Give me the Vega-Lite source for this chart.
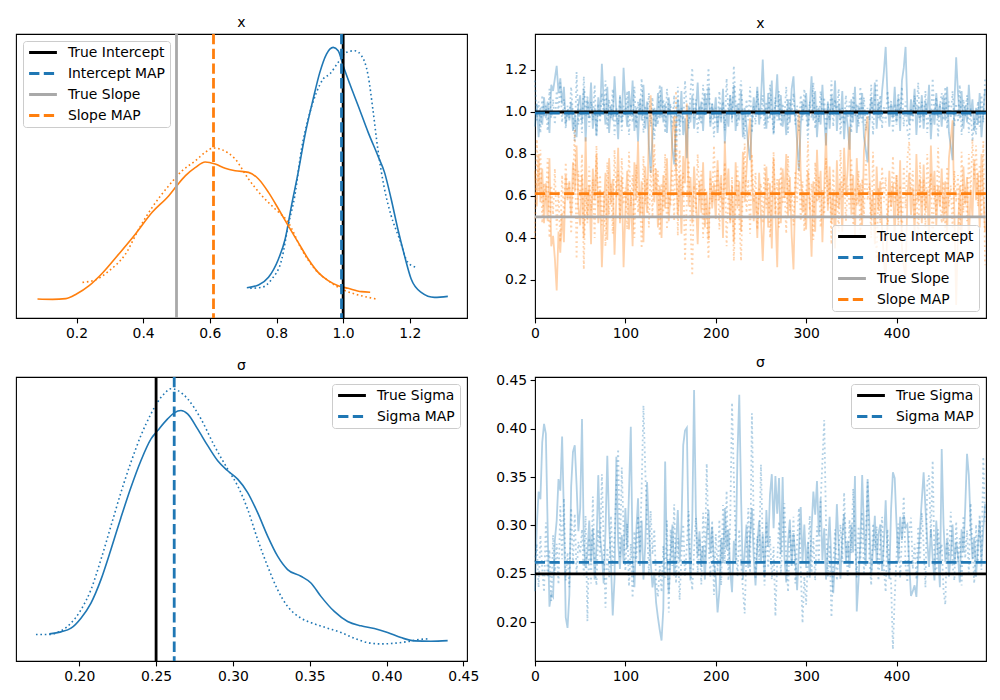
{
  "$schema": "https://vega.github.io/schema/vega-lite/v6.json",
  "background": "white",
  "padding": {"left": 15, "top": 15, "right": 5, "bottom": 5},
  "bounds": "flush",
  "columns": 2,
  "spacing": {"row": 59, "column": 68},
  "datasets": {
    "kdeX": [
      {"p": "Intercept", "c": 0, "x": 0.711, "d": 0.245}, {"p": "Intercept", "c": 0, "x": 0.746, "d": 0.282}, {"p": "Intercept", "c": 0, "x": 0.776, "d": 0.389}, {"p": "Intercept", "c": 0, "x": 0.806, "d": 0.644}, {"p": "Intercept", "c": 0, "x": 0.826, "d": 0.921}, {"p": "Intercept", "c": 0, "x": 0.845, "d": 1.384}, {"p": "Intercept", "c": 0, "x": 0.865, "d": 1.847}, {"p": "Intercept", "c": 0, "x": 0.885, "d": 2.356}, {"p": "Intercept", "c": 0, "x": 0.91, "d": 2.866}, {"p": "Intercept", "c": 0, "x": 0.93, "d": 3.236}, {"p": "Intercept", "c": 0, "x": 0.95, "d": 3.491}, {"p": "Intercept", "c": 0, "x": 0.97, "d": 3.583}, {"p": "Intercept", "c": 0, "x": 0.985, "d": 3.537}, {"p": "Intercept", "c": 0, "x": 1.0, "d": 3.329}, {"p": "Intercept", "c": 0, "x": 1.02, "d": 3.074}, {"p": "Intercept", "c": 0, "x": 1.045, "d": 2.773}, {"p": "Intercept", "c": 0, "x": 1.075, "d": 2.403}, {"p": "Intercept", "c": 0, "x": 1.104, "d": 2.079}, {"p": "Intercept", "c": 0, "x": 1.124, "d": 1.847}, {"p": "Intercept", "c": 0, "x": 1.144, "d": 1.477}, {"p": "Intercept", "c": 0, "x": 1.164, "d": 1.06}, {"p": "Intercept", "c": 0, "x": 1.184, "d": 0.69}, {"p": "Intercept", "c": 0, "x": 1.204, "d": 0.366}, {"p": "Intercept", "c": 0, "x": 1.234, "d": 0.181}, {"p": "Intercept", "c": 0, "x": 1.274, "d": 0.111}, {"p": "Intercept", "c": 0, "x": 1.314, "d": 0.125},
      {"p": "Intercept", "c": 1, "x": 0.721, "d": 0.236}, {"p": "Intercept", "c": 1, "x": 0.756, "d": 0.25}, {"p": "Intercept", "c": 1, "x": 0.786, "d": 0.366}, {"p": "Intercept", "c": 1, "x": 0.816, "d": 0.644}, {"p": "Intercept", "c": 1, "x": 0.835, "d": 1.106}, {"p": "Intercept", "c": 1, "x": 0.855, "d": 1.523}, {"p": "Intercept", "c": 1, "x": 0.875, "d": 2.171}, {"p": "Intercept", "c": 1, "x": 0.895, "d": 2.588}, {"p": "Intercept", "c": 1, "x": 0.92, "d": 2.958}, {"p": "Intercept", "c": 1, "x": 0.94, "d": 3.144}, {"p": "Intercept", "c": 1, "x": 0.96, "d": 3.213}, {"p": "Intercept", "c": 1, "x": 0.985, "d": 3.375}, {"p": "Intercept", "c": 1, "x": 1.01, "d": 3.514}, {"p": "Intercept", "c": 1, "x": 1.035, "d": 3.537}, {"p": "Intercept", "c": 1, "x": 1.055, "d": 3.468}, {"p": "Intercept", "c": 1, "x": 1.075, "d": 3.19}, {"p": "Intercept", "c": 1, "x": 1.089, "d": 2.727}, {"p": "Intercept", "c": 1, "x": 1.104, "d": 2.171}, {"p": "Intercept", "c": 1, "x": 1.124, "d": 1.616}, {"p": "Intercept", "c": 1, "x": 1.144, "d": 1.245}, {"p": "Intercept", "c": 1, "x": 1.169, "d": 0.921}, {"p": "Intercept", "c": 1, "x": 1.194, "d": 0.597}, {"p": "Intercept", "c": 1, "x": 1.219, "d": 0.528},
      {"p": "Slope", "c": 0, "x": 0.083, "d": 0.088}, {"p": "Slope", "c": 0, "x": 0.128, "d": 0.083}, {"p": "Slope", "c": 0, "x": 0.168, "d": 0.093}, {"p": "Slope", "c": 0, "x": 0.2, "d": 0.157}, {"p": "Slope", "c": 0, "x": 0.238, "d": 0.273}, {"p": "Slope", "c": 0, "x": 0.278, "d": 0.449}, {"p": "Slope", "c": 0, "x": 0.327, "d": 0.713}, {"p": "Slope", "c": 0, "x": 0.377, "d": 0.991}, {"p": "Slope", "c": 0, "x": 0.427, "d": 1.292}, {"p": "Slope", "c": 0, "x": 0.477, "d": 1.523}, {"p": "Slope", "c": 0, "x": 0.501, "d": 1.662}, {"p": "Slope", "c": 0, "x": 0.527, "d": 1.801}, {"p": "Slope", "c": 0, "x": 0.557, "d": 1.917}, {"p": "Slope", "c": 0, "x": 0.586, "d": 1.991}, {"p": "Slope", "c": 0, "x": 0.616, "d": 1.963}, {"p": "Slope", "c": 0, "x": 0.646, "d": 1.903}, {"p": "Slope", "c": 0, "x": 0.676, "d": 1.87}, {"p": "Slope", "c": 0, "x": 0.716, "d": 1.847}, {"p": "Slope", "c": 0, "x": 0.746, "d": 1.755}, {"p": "Slope", "c": 0, "x": 0.776, "d": 1.569}, {"p": "Slope", "c": 0, "x": 0.806, "d": 1.338}, {"p": "Slope", "c": 0, "x": 0.835, "d": 1.106}, {"p": "Slope", "c": 0, "x": 0.865, "d": 0.875}, {"p": "Slope", "c": 0, "x": 0.895, "d": 0.644}, {"p": "Slope", "c": 0, "x": 0.925, "d": 0.458}, {"p": "Slope", "c": 0, "x": 0.955, "d": 0.343}, {"p": "Slope", "c": 0, "x": 0.985, "d": 0.273}, {"p": "Slope", "c": 0, "x": 1.015, "d": 0.236}, {"p": "Slope", "c": 0, "x": 1.055, "d": 0.19}, {"p": "Slope", "c": 0, "x": 1.081, "d": 0.181},
      {"p": "Slope", "c": 1, "x": 0.218, "d": 0.319}, {"p": "Slope", "c": 1, "x": 0.258, "d": 0.356}, {"p": "Slope", "c": 1, "x": 0.298, "d": 0.481}, {"p": "Slope", "c": 1, "x": 0.347, "d": 0.713}, {"p": "Slope", "c": 1, "x": 0.387, "d": 1.06}, {"p": "Slope", "c": 1, "x": 0.427, "d": 1.361}, {"p": "Slope", "c": 1, "x": 0.477, "d": 1.662}, {"p": "Slope", "c": 1, "x": 0.517, "d": 1.87}, {"p": "Slope", "c": 1, "x": 0.557, "d": 2.009}, {"p": "Slope", "c": 1, "x": 0.586, "d": 2.125}, {"p": "Slope", "c": 1, "x": 0.611, "d": 2.185}, {"p": "Slope", "c": 1, "x": 0.636, "d": 2.162}, {"p": "Slope", "c": 1, "x": 0.676, "d": 2.032}, {"p": "Slope", "c": 1, "x": 0.716, "d": 1.755}, {"p": "Slope", "c": 1, "x": 0.756, "d": 1.523}, {"p": "Slope", "c": 1, "x": 0.796, "d": 1.338}, {"p": "Slope", "c": 1, "x": 0.835, "d": 1.153}, {"p": "Slope", "c": 1, "x": 0.875, "d": 0.782}, {"p": "Slope", "c": 1, "x": 0.915, "d": 0.505}, {"p": "Slope", "c": 1, "x": 0.955, "d": 0.343}, {"p": "Slope", "c": 1, "x": 0.995, "d": 0.227}, {"p": "Slope", "c": 1, "x": 1.035, "d": 0.157}, {"p": "Slope", "c": 1, "x": 1.075, "d": 0.111}, {"p": "Slope", "c": 1, "x": 1.099, "d": 0.088}
    ],
    "kdeS": [
      {"c": 0, "x": 0.1805, "d": 0.517}, {"c": 0, "x": 0.1881, "d": 0.617}, {"c": 0, "x": 0.1946, "d": 0.8}, {"c": 0, "x": 0.2011, "d": 1.3}, {"c": 0, "x": 0.2076, "d": 2.05}, {"c": 0, "x": 0.2141, "d": 3.217}, {"c": 0, "x": 0.2206, "d": 4.717}, {"c": 0, "x": 0.2271, "d": 6.3}, {"c": 0, "x": 0.2336, "d": 7.8}, {"c": 0, "x": 0.2401, "d": 9.133}, {"c": 0, "x": 0.2467, "d": 10.217}, {"c": 0, "x": 0.251, "d": 10.633}, {"c": 0, "x": 0.2575, "d": 11.217}, {"c": 0, "x": 0.2618, "d": 11.517}, {"c": 0, "x": 0.2662, "d": 11.633}, {"c": 0, "x": 0.2705, "d": 11.467}, {"c": 0, "x": 0.277, "d": 10.717}, {"c": 0, "x": 0.2836, "d": 9.883}, {"c": 0, "x": 0.2901, "d": 9.133}, {"c": 0, "x": 0.2966, "d": 8.633}, {"c": 0, "x": 0.3031, "d": 8.217}, {"c": 0, "x": 0.3096, "d": 7.55}, {"c": 0, "x": 0.3161, "d": 6.55}, {"c": 0, "x": 0.3226, "d": 5.383}, {"c": 0, "x": 0.3291, "d": 4.383}, {"c": 0, "x": 0.3356, "d": 3.717}, {"c": 0, "x": 0.3443, "d": 3.383}, {"c": 0, "x": 0.3508, "d": 3.05}, {"c": 0, "x": 0.3573, "d": 2.383}, {"c": 0, "x": 0.366, "d": 1.633}, {"c": 0, "x": 0.3747, "d": 1.133}, {"c": 0, "x": 0.3834, "d": 0.917}, {"c": 0, "x": 0.3921, "d": 0.783}, {"c": 0, "x": 0.4007, "d": 0.583}, {"c": 0, "x": 0.4094, "d": 0.333}, {"c": 0, "x": 0.4181, "d": 0.167}, {"c": 0, "x": 0.4289, "d": 0.15}, {"c": 0, "x": 0.4398, "d": 0.183},
      {"c": 1, "x": 0.1718, "d": 0.483}, {"c": 1, "x": 0.1794, "d": 0.483}, {"c": 1, "x": 0.1881, "d": 0.667}, {"c": 1, "x": 0.1946, "d": 1.05}, {"c": 1, "x": 0.2011, "d": 1.717}, {"c": 1, "x": 0.2076, "d": 2.717}, {"c": 1, "x": 0.2141, "d": 4.217}, {"c": 1, "x": 0.2206, "d": 5.883}, {"c": 1, "x": 0.2271, "d": 7.55}, {"c": 1, "x": 0.2336, "d": 9.05}, {"c": 1, "x": 0.2401, "d": 10.383}, {"c": 1, "x": 0.2467, "d": 11.467}, {"c": 1, "x": 0.251, "d": 12.05}, {"c": 1, "x": 0.2553, "d": 12.467}, {"c": 1, "x": 0.2597, "d": 12.717}, {"c": 1, "x": 0.264, "d": 12.633}, {"c": 1, "x": 0.2705, "d": 12.217}, {"c": 1, "x": 0.2792, "d": 11.217}, {"c": 1, "x": 0.2879, "d": 9.883}, {"c": 1, "x": 0.2966, "d": 8.717}, {"c": 1, "x": 0.3031, "d": 7.883}, {"c": 1, "x": 0.3096, "d": 6.717}, {"c": 1, "x": 0.3161, "d": 5.217}, {"c": 1, "x": 0.3226, "d": 3.883}, {"c": 1, "x": 0.3291, "d": 2.717}, {"c": 1, "x": 0.3356, "d": 1.883}, {"c": 1, "x": 0.3443, "d": 1.3}, {"c": 1, "x": 0.353, "d": 1.017}, {"c": 1, "x": 0.3617, "d": 0.8}, {"c": 1, "x": 0.3704, "d": 0.583}, {"c": 1, "x": 0.379, "d": 0.3}, {"c": 1, "x": 0.3877, "d": 0.083}, {"c": 1, "x": 0.3964, "d": 0.017}, {"c": 1, "x": 0.4051, "d": 0.05}, {"c": 1, "x": 0.4138, "d": 0.133}, {"c": 1, "x": 0.4224, "d": 0.25}, {"c": 1, "x": 0.4268, "d": 0.267}
    ],
    "refX": [
      {"name": "True Intercept", "v": 1.0},
      {"name": "Intercept MAP", "v": 0.995},
      {"name": "True Slope", "v": 0.5},
      {"name": "Slope MAP", "v": 0.611}
    ],
    "refS": [
      {"name": "True Sigma", "v": 0.25},
      {"name": "Sigma MAP", "v": 0.2618}
    ],
    "trace": [
      {"i":0,"a0":0.93,"a1":1.15,"b0":0.72,"b1":0.40,"s0":0.232,"s1":0.262},
      {"i":2,"a0":1.04,"a1":0.96,"b0":0.55,"b1":0.87,"s0":0.300,"s1":0.281},
      {"i":4,"a0":0.88,"a1":1.05,"b0":0.80,"b1":0.62,"s0":0.335,"s1":0.236},
      {"i":6,"a0":1.02,"a1":0.90,"b0":0.57,"b1":0.82,"s0":0.327,"s1":0.290},
      {"i":8,"a0":0.94,"a1":1.08,"b0":0.73,"b1":0.47,"s0":0.386,"s1":0.255},
      {"i":10,"a0":1.07,"a1":0.98,"b0":0.47,"b1":0.66,"s0":0.405,"s1":0.231},
      {"i":12,"a0":0.97,"a1":1.03,"b0":0.66,"b1":0.58,"s0":0.395,"s1":0.303},
      {"i":14,"a0":1.05,"a1":0.91,"b0":0.48,"b1":0.78,"s0":0.298,"s1":0.246},
      {"i":16,"a0":0.90,"a1":1.11,"b0":0.78,"b1":0.40,"s0":0.216,"s1":0.275},
      {"i":18,"a0":1.13,"a1":0.97,"b0":0.36,"b1":0.65,"s0":0.229,"s1":0.222},
      {"i":20,"a0":1.10,"a1":1.06,"b0":0.41,"b1":0.51,"s0":0.226,"s1":0.290},
      {"i":22,"a0":1.16,"a1":0.94,"b0":0.30,"b1":0.73,"s0":0.285,"s1":0.250},
      {"i":24,"a0":1.22,"a1":1.10,"b0":0.15,"b1":0.44,"s0":0.305,"s1":0.281},
      {"i":26,"a0":1.09,"a1":1.00,"b0":0.43,"b1":0.62,"s0":0.348,"s1":0.239},
      {"i":28,"a0":1.16,"a1":1.14,"b0":0.33,"b1":0.38,"s0":0.336,"s1":0.320},
      {"i":30,"a0":1.04,"a1":0.95,"b0":0.52,"b1":0.70,"s0":0.392,"s1":0.265},
      {"i":32,"a0":1.12,"a1":1.06,"b0":0.38,"b1":0.50,"s0":0.310,"s1":0.328},
      {"i":34,"a0":0.94,"a1":0.92,"b0":0.70,"b1":0.76,"s0":0.205,"s1":0.243},
      {"i":36,"a0":1.01,"a1":1.03,"b0":0.58,"b1":0.59,"s0":0.194,"s1":0.272},
      {"i":38,"a0":0.96,"a1":0.97,"b0":0.67,"b1":0.66,"s0":0.228,"s1":0.236},
      {"i":40,"a0":1.05,"a1":1.12,"b0":0.50,"b1":0.42,"s0":0.340,"s1":0.318},
      {"i":42,"a0":0.91,"a1":0.99,"b0":0.76,"b1":0.64,"s0":0.376,"s1":0.260},
      {"i":44,"a0":0.99,"a1":0.86,"b0":0.62,"b1":0.92,"s0":0.383,"s1":0.312},
      {"i":46,"a0":0.88,"a1":1.19,"b0":0.84,"b1":0.30,"s0":0.342,"s1":0.249},
      {"i":48,"a0":1.03,"a1":0.94,"b0":0.55,"b1":0.72,"s0":0.294,"s1":0.283},
      {"i":50,"a0":1.08,"a1":1.02,"b0":0.46,"b1":0.58,"s0":0.318,"s1":0.271},
      {"i":52,"a0":0.95,"a1":0.90,"b0":0.70,"b1":0.80,"s0":0.410,"s1":0.296},
      {"i":54,"a0":1.11,"a1":1.17,"b0":0.40,"b1":0.25,"s0":0.282,"s1":0.247},
      {"i":56,"a0":0.86,"a1":0.98,"b0":0.88,"b1":0.64,"s0":0.256,"s1":0.310},
      {"i":58,"a0":1.06,"a1":1.08,"b0":0.49,"b1":0.47,"s0":0.271,"s1":0.201},
      {"i":60,"a0":0.97,"a1":0.93,"b0":0.65,"b1":0.74,"s0":0.305,"s1":0.287},
      {"i":62,"a0":1.14,"a1":1.05,"b0":0.37,"b1":0.53,"s0":0.262,"s1":0.240},
      {"i":64,"a0":0.92,"a1":0.96,"b0":0.73,"b1":0.68,"s0":0.297,"s1":0.330},
      {"i":66,"a0":1.02,"a1":1.13,"b0":0.58,"b1":0.40,"s0":0.244,"s1":0.262},
      {"i":68,"a0":0.89,"a1":0.88,"b0":0.80,"b1":0.84,"s0":0.278,"s1":0.238},
      {"i":70,"a0":1.07,"a1":1.04,"b0":0.47,"b1":0.55,"s0":0.352,"s1":0.296},
      {"i":72,"a0":0.98,"a1":0.95,"b0":0.63,"b1":0.70,"s0":0.288,"s1":0.268},
      {"i":74,"a0":1.23,"a1":1.09,"b0":0.26,"b1":0.46,"s0":0.270,"s1":0.353},
      {"i":76,"a0":1.05,"a1":0.99,"b0":0.52,"b1":0.63,"s0":0.240,"s1":0.282},
      {"i":78,"a0":0.94,"a1":1.15,"b0":0.71,"b1":0.36,"s0":0.294,"s1":0.215},
      {"i":80,"a0":1.12,"a1":0.92,"b0":0.39,"b1":0.76,"s0":0.372,"s1":0.277},
      {"i":82,"a0":0.90,"a1":1.06,"b0":0.78,"b1":0.51,"s0":0.301,"s1":0.246},
      {"i":84,"a0":1.03,"a1":0.97,"b0":0.56,"b1":0.66,"s0":0.262,"s1":0.310},
      {"i":86,"a0":0.96,"a1":1.11,"b0":0.68,"b1":0.42,"s0":0.207,"s1":0.258},
      {"i":88,"a0":1.17,"a1":0.89,"b0":0.32,"b1":0.82,"s0":0.245,"s1":0.289},
      {"i":90,"a0":1.00,"a1":1.02,"b0":0.60,"b1":0.59,"s0":0.371,"s1":0.340},
      {"i":92,"a0":0.87,"a1":0.94,"b0":0.83,"b1":0.72,"s0":0.283,"s1":0.379},
      {"i":94,"a0":1.08,"a1":1.07,"b0":0.47,"b1":0.49,"s0":0.255,"s1":0.267},
      {"i":96,"a0":0.95,"a1":0.91,"b0":0.69,"b1":0.78,"s0":0.290,"s1":0.360},
      {"i":98,"a0":1.21,"a1":1.03,"b0":0.26,"b1":0.56,"s0":0.262,"s1":0.296},
      {"i":100,"a0":1.04,"a1":0.98,"b0":0.53,"b1":0.64,"s0":0.318,"s1":0.253},
      {"i":102,"a0":0.93,"a1":1.10,"b0":0.72,"b1":0.44,"s0":0.276,"s1":0.302},
      {"i":104,"a0":1.10,"a1":0.89,"b0":0.44,"b1":0.81,"s0":0.334,"s1":0.237},
      {"i":106,"a0":0.99,"a1":1.04,"b0":0.62,"b1":0.55,"s0":0.402,"s1":0.281},
      {"i":108,"a0":1.15,"a1":0.95,"b0":0.36,"b1":0.70,"s0":0.266,"s1":0.225},
      {"i":110,"a0":0.91,"a1":1.12,"b0":0.76,"b1":0.40,"s0":0.236,"s1":0.294},
      {"i":112,"a0":1.02,"a1":0.92,"b0":0.58,"b1":0.75,"s0":0.292,"s1":0.262},
      {"i":114,"a0":0.86,"a1":1.05,"b0":0.86,"b1":0.52,"s0":0.328,"s1":0.310},
      {"i":116,"a0":1.06,"a1":0.99,"b0":0.50,"b1":0.62,"s0":0.258,"s1":0.271},
      {"i":118,"a0":0.96,"a1":1.16,"b0":0.67,"b1":0.35,"s0":0.305,"s1":0.338},
      {"i":120,"a0":1.13,"a1":0.90,"b0":0.38,"b1":0.79,"s0":0.244,"s1":0.424},
      {"i":122,"a0":0.92,"a1":1.03,"b0":0.74,"b1":0.56,"s0":0.280,"s1":0.358},
      {"i":124,"a0":1.05,"a1":0.96,"b0":0.52,"b1":0.68,"s0":0.345,"s1":0.300},
      {"i":126,"a0":0.84,"a1":1.09,"b0":0.90,"b1":0.45,"s0":0.296,"s1":0.248},
      {"i":128,"a0":0.71,"a1":0.93,"b0":1.08,"b1":0.74,"s0":0.262,"s1":0.315},
      {"i":130,"a0":0.88,"a1":1.07,"b0":0.82,"b1":0.50,"s0":0.236,"s1":0.270},
      {"i":132,"a0":1.02,"a1":0.87,"b0":0.57,"b1":0.85,"s0":0.251,"s1":0.296},
      {"i":134,"a0":0.93,"a1":1.01,"b0":0.73,"b1":0.60,"s0":0.220,"s1":0.242},
      {"i":136,"a0":1.09,"a1":0.94,"b0":0.45,"b1":0.72,"s0":0.205,"s1":0.226},
      {"i":138,"a0":0.97,"a1":1.13,"b0":0.65,"b1":0.41,"s0":0.192,"s1":0.258},
      {"i":140,"a0":1.12,"a1":0.97,"b0":0.40,"b1":0.66,"s0":0.181,"s1":0.231},
      {"i":142,"a0":0.95,"a1":1.06,"b0":0.70,"b1":0.52,"s0":0.214,"s1":0.279},
      {"i":144,"a0":1.04,"a1":0.90,"b0":0.54,"b1":0.80,"s0":0.366,"s1":0.246},
      {"i":146,"a0":0.90,"a1":1.11,"b0":0.78,"b1":0.44,"s0":0.262,"s1":0.305},
      {"i":148,"a0":1.07,"a1":0.99,"b0":0.48,"b1":0.61,"s0":0.230,"s1":0.210},
      {"i":150,"a0":0.98,"a1":1.04,"b0":0.63,"b1":0.55,"s0":0.268,"s1":0.296},
      {"i":152,"a0":0.83,"a1":0.93,"b0":0.90,"b1":0.73,"s0":0.301,"s1":0.258},
      {"i":154,"a0":0.75,"a1":1.08,"b0":0.98,"b1":0.48,"s0":0.248,"s1":0.322},
      {"i":156,"a0":0.92,"a1":0.73,"b0":0.74,"b1":1.10,"s0":0.279,"s1":0.240},
      {"i":158,"a0":1.06,"a1":1.12,"b0":0.51,"b1":0.41,"s0":0.316,"s1":0.287},
      {"i":160,"a0":0.94,"a1":0.89,"b0":0.70,"b1":0.82,"s0":0.262,"s1":0.223},
      {"i":162,"a0":1.10,"a1":1.02,"b0":0.42,"b1":0.60,"s0":0.297,"s1":0.268},
      {"i":164,"a0":0.89,"a1":0.95,"b0":0.79,"b1":0.71,"s0":0.383,"s1":0.301},
      {"i":166,"a0":0.97,"a1":1.15,"b0":0.66,"b1":0.29,"s0":0.398,"s1":0.247},
      {"i":168,"a0":0.78,"a1":1.01,"b0":1.04,"b1":0.59,"s0":0.401,"s1":0.279},
      {"i":170,"a0":1.03,"a1":0.92,"b0":0.55,"b1":0.77,"s0":0.287,"s1":0.315},
      {"i":172,"a0":0.95,"a1":1.09,"b0":0.69,"b1":0.47,"s0":0.243,"s1":0.256},
      {"i":174,"a0":1.08,"a1":1.21,"b0":0.47,"b1":0.22,"s0":0.305,"s1":0.233},
      {"i":176,"a0":0.92,"a1":0.97,"b0":0.74,"b1":0.65,"s0":0.440,"s1":0.274},
      {"i":178,"a0":1.01,"a1":1.06,"b0":0.59,"b1":0.52,"s0":0.312,"s1":0.308},
      {"i":180,"a0":1.14,"a1":0.90,"b0":0.37,"b1":0.80,"s0":0.268,"s1":0.251},
      {"i":182,"a0":0.96,"a1":1.03,"b0":0.67,"b1":0.58,"s0":0.294,"s1":0.287},
      {"i":184,"a0":1.05,"a1":0.94,"b0":0.52,"b1":0.72,"s0":0.257,"s1":0.239},
      {"i":186,"a0":0.91,"a1":1.13,"b0":0.76,"b1":0.40,"s0":0.279,"s1":0.313},
      {"i":188,"a0":1.09,"a1":0.98,"b0":0.45,"b1":0.64,"s0":0.244,"s1":0.266},
      {"i":190,"a0":0.99,"a1":1.07,"b0":0.62,"b1":0.50,"s0":0.290,"s1":0.364},
      {"i":192,"a0":1.12,"a1":1.21,"b0":0.39,"b1":0.30,"s0":0.316,"s1":0.282},
      {"i":194,"a0":0.93,"a1":0.95,"b0":0.72,"b1":0.69,"s0":0.271,"s1":0.247},
      {"i":196,"a0":1.04,"a1":1.04,"b0":0.54,"b1":0.57,"s0":0.298,"s1":0.305},
      {"i":198,"a0":0.97,"a1":0.88,"b0":0.66,"b1":0.84,"s0":0.262,"s1":0.228},
      {"i":200,"a0":1.07,"a1":1.02,"b0":0.49,"b1":0.58,"s0":0.246,"s1":0.291},
      {"i":202,"a0":0.90,"a1":0.93,"b0":0.77,"b1":0.73,"s0":0.210,"s1":0.252},
      {"i":204,"a0":1.02,"a1":1.10,"b0":0.58,"b1":0.44,"s0":0.232,"s1":0.306},
      {"i":206,"a0":0.95,"a1":0.97,"b0":0.70,"b1":0.66,"s0":0.287,"s1":0.238},
      {"i":208,"a0":1.11,"a1":1.05,"b0":0.40,"b1":0.53,"s0":0.261,"s1":0.321},
      {"i":210,"a0":0.85,"a1":0.91,"b0":0.86,"b1":0.76,"s0":0.318,"s1":0.260},
      {"i":212,"a0":1.00,"a1":1.16,"b0":0.60,"b1":0.36,"s0":0.275,"s1":0.336},
      {"i":214,"a0":0.93,"a1":0.99,"b0":0.73,"b1":0.62,"s0":0.296,"s1":0.243},
      {"i":216,"a0":1.08,"a1":1.08,"b0":0.47,"b1":0.48,"s0":0.253,"s1":0.304},
      {"i":218,"a0":0.97,"a1":0.95,"b0":0.65,"b1":0.69,"s0":0.231,"s1":0.427},
      {"i":220,"a0":1.13,"a1":1.22,"b0":0.38,"b1":0.29,"s0":0.284,"s1":0.350},
      {"i":222,"a0":0.91,"a1":1.04,"b0":0.76,"b1":0.56,"s0":0.262,"s1":0.281},
      {"i":224,"a0":1.04,"a1":0.93,"b0":0.54,"b1":0.74,"s0":0.372,"s1":0.247},
      {"i":226,"a0":0.96,"a1":1.07,"b0":0.67,"b1":0.50,"s0":0.435,"s1":0.296},
      {"i":228,"a0":1.10,"a1":1.15,"b0":0.43,"b1":0.29,"s0":0.330,"s1":0.262},
      {"i":230,"a0":0.88,"a1":0.98,"b0":0.81,"b1":0.63,"s0":0.244,"s1":0.234},
      {"i":232,"a0":1.02,"a1":0.87,"b0":0.57,"b1":0.85,"s0":0.272,"s1":0.209},
      {"i":234,"a0":0.93,"a1":1.06,"b0":0.72,"b1":0.52,"s0":0.301,"s1":0.273},
      {"i":236,"a0":0.84,"a1":0.96,"b0":0.88,"b1":0.68,"s0":0.256,"s1":0.318},
      {"i":238,"a0":0.77,"a1":1.12,"b0":0.97,"b1":0.42,"s0":0.289,"s1":0.251},
      {"i":240,"a0":0.95,"a1":0.90,"b0":0.69,"b1":0.80,"s0":0.318,"s1":0.416},
      {"i":242,"a0":1.07,"a1":1.03,"b0":0.48,"b1":0.57,"s0":0.267,"s1":0.302},
      {"i":244,"a0":0.99,"a1":0.94,"b0":0.62,"b1":0.71,"s0":0.238,"s1":0.246},
      {"i":246,"a0":1.12,"a1":1.10,"b0":0.40,"b1":0.44,"s0":0.280,"s1":0.289},
      {"i":248,"a0":0.94,"a1":0.99,"b0":0.71,"b1":0.63,"s0":0.305,"s1":0.264},
      {"i":250,"a0":1.06,"a1":0.97,"b0":0.50,"b1":0.66,"s0":0.262,"s1":0.363},
      {"i":252,"a0":1.25,"a1":1.08,"b0":0.29,"b1":0.47,"s0":0.291,"s1":0.280},
      {"i":254,"a0":1.03,"a1":0.92,"b0":0.55,"b1":0.75,"s0":0.246,"s1":0.238},
      {"i":256,"a0":0.92,"a1":1.05,"b0":0.74,"b1":0.54,"s0":0.316,"s1":0.303},
      {"i":258,"a0":1.09,"a1":0.95,"b0":0.45,"b1":0.69,"s0":0.278,"s1":0.256},
      {"i":260,"a0":0.97,"a1":1.13,"b0":0.66,"b1":0.40,"s0":0.332,"s1":0.289},
      {"i":262,"a0":1.15,"a1":1.01,"b0":0.35,"b1":0.59,"s0":0.353,"s1":0.244},
      {"i":264,"a0":0.90,"a1":0.89,"b0":0.78,"b1":0.81,"s0":0.297,"s1":0.278},
      {"i":266,"a0":1.04,"a1":1.07,"b0":0.53,"b1":0.51,"s0":0.351,"s1":0.206},
      {"i":268,"a0":1.18,"a1":0.96,"b0":0.26,"b1":0.68,"s0":0.312,"s1":0.262},
      {"i":270,"a0":0.96,"a1":1.10,"b0":0.68,"b1":0.45,"s0":0.349,"s1":0.304},
      {"i":272,"a0":1.08,"a1":0.93,"b0":0.47,"b1":0.74,"s0":0.270,"s1":0.250},
      {"i":274,"a0":0.93,"a1":1.04,"b0":0.73,"b1":0.56,"s0":0.350,"s1":0.287},
      {"i":276,"a0":1.01,"a1":0.98,"b0":0.59,"b1":0.64,"s0":0.266,"s1":0.323},
      {"i":278,"a0":0.89,"a1":1.12,"b0":0.80,"b1":0.42,"s0":0.241,"s1":0.265},
      {"i":280,"a0":1.06,"a1":0.90,"b0":0.50,"b1":0.79,"s0":0.283,"s1":0.231},
      {"i":282,"a0":0.95,"a1":1.06,"b0":0.69,"b1":0.53,"s0":0.306,"s1":0.296},
      {"i":284,"a0":1.11,"a1":0.99,"b0":0.41,"b1":0.62,"s0":0.258,"s1":0.262},
      {"i":286,"a0":1.17,"a1":1.09,"b0":0.25,"b1":0.46,"s0":0.292,"s1":0.309},
      {"i":288,"a0":0.98,"a1":0.94,"b0":0.63,"b1":0.72,"s0":0.268,"s1":0.240},
      {"i":290,"a0":0.86,"a1":1.03,"b0":0.85,"b1":0.57,"s0":0.233,"s1":0.282},
      {"i":292,"a0":0.72,"a1":0.91,"b0":1.01,"b1":0.77,"s0":0.275,"s1":0.318},
      {"i":294,"a0":0.94,"a1":1.08,"b0":0.71,"b1":0.48,"s0":0.319,"s1":0.256},
      {"i":296,"a0":1.05,"a1":0.96,"b0":0.52,"b1":0.67,"s0":0.262,"s1":0.199},
      {"i":298,"a0":0.99,"a1":1.11,"b0":0.61,"b1":0.43,"s0":0.301,"s1":0.247},
      {"i":300,"a0":1.09,"a1":1.00,"b0":0.44,"b1":0.60,"s0":0.256,"s1":0.218},
      {"i":302,"a0":0.93,"a1":0.87,"b0":0.72,"b1":0.86,"s0":0.283,"s1":0.268},
      {"i":304,"a0":1.03,"a1":1.05,"b0":0.56,"b1":0.53,"s0":0.246,"s1":0.310},
      {"i":306,"a0":1.17,"a1":0.97,"b0":0.31,"b1":0.66,"s0":0.297,"s1":0.251},
      {"i":308,"a0":0.96,"a1":1.14,"b0":0.67,"b1":0.39,"s0":0.335,"s1":0.287},
      {"i":310,"a0":1.10,"a1":0.92,"b0":0.43,"b1":0.76,"s0":0.311,"s1":0.243},
      {"i":312,"a0":0.88,"a1":1.03,"b0":0.82,"b1":0.57,"s0":0.346,"s1":0.299},
      {"i":314,"a0":1.02,"a1":0.95,"b0":0.58,"b1":0.69,"s0":0.290,"s1":0.262},
      {"i":316,"a0":0.94,"a1":1.10,"b0":0.72,"b1":0.45,"s0":0.328,"s1":0.324},
      {"i":318,"a0":1.13,"a1":0.98,"b0":0.38,"b1":0.63,"s0":0.264,"s1":0.366},
      {"i":320,"a0":0.97,"a1":1.07,"b0":0.64,"b1":0.50,"s0":0.297,"s1":0.409},
      {"i":322,"a0":0.84,"a1":0.91,"b0":0.90,"b1":0.78,"s0":0.244,"s1":0.301},
      {"i":324,"a0":1.05,"a1":1.04,"b0":0.53,"b1":0.56,"s0":0.277,"s1":0.247},
      {"i":326,"a0":0.92,"a1":0.96,"b0":0.74,"b1":0.68,"s0":0.309,"s1":0.280},
      {"i":328,"a0":1.08,"a1":1.15,"b0":0.47,"b1":0.37,"s0":0.258,"s1":0.205},
      {"i":330,"a0":0.99,"a1":0.93,"b0":0.62,"b1":0.73,"s0":0.230,"s1":0.259},
      {"i":332,"a0":1.15,"a1":1.06,"b0":0.35,"b1":0.51,"s0":0.268,"s1":0.296},
      {"i":334,"a0":0.91,"a1":0.99,"b0":0.77,"b1":0.62,"s0":0.322,"s1":0.243},
      {"i":336,"a0":1.04,"a1":1.11,"b0":0.54,"b1":0.43,"s0":0.279,"s1":0.277},
      {"i":338,"a0":0.96,"a1":0.89,"b0":0.67,"b1":0.82,"s0":0.245,"s1":0.301},
      {"i":340,"a0":1.10,"a1":1.02,"b0":0.43,"b1":0.59,"s0":0.290,"s1":0.262},
      {"i":342,"a0":0.87,"a1":0.94,"b0":0.83,"b1":0.70,"s0":0.312,"s1":0.334},
      {"i":344,"a0":1.01,"a1":1.08,"b0":0.60,"b1":0.48,"s0":0.263,"s1":0.282},
      {"i":346,"a0":0.93,"a1":0.97,"b0":0.73,"b1":0.65,"s0":0.284,"s1":0.248},
      {"i":348,"a0":0.82,"a1":1.05,"b0":0.93,"b1":0.54,"s0":0.256,"s1":0.306},
      {"i":350,"a0":1.06,"a1":0.90,"b0":0.51,"b1":0.78,"s0":0.301,"s1":0.271},
      {"i":352,"a0":0.95,"a1":1.09,"b0":0.70,"b1":0.46,"s0":0.272,"s1":0.338},
      {"i":354,"a0":1.12,"a1":0.98,"b0":0.41,"b1":0.64,"s0":0.351,"s1":0.285},
      {"i":356,"a0":0.90,"a1":1.04,"b0":0.78,"b1":0.55,"s0":0.211,"s1":0.246},
      {"i":358,"a0":1.03,"a1":0.93,"b0":0.56,"b1":0.72,"s0":0.244,"s1":0.299},
      {"i":360,"a0":0.97,"a1":1.12,"b0":0.66,"b1":0.42,"s0":0.283,"s1":0.262},
      {"i":362,"a0":1.09,"a1":0.95,"b0":0.46,"b1":0.68,"s0":0.352,"s1":0.314},
      {"i":364,"a0":0.88,"a1":1.07,"b0":0.82,"b1":0.50,"s0":0.296,"s1":0.251},
      {"i":366,"a0":0.82,"a1":0.91,"b0":0.91,"b1":0.77,"s0":0.258,"s1":0.288},
      {"i":368,"a0":0.76,"a1":1.02,"b0":0.98,"b1":0.58,"s0":0.348,"s1":0.345},
      {"i":370,"a0":0.95,"a1":0.96,"b0":0.69,"b1":0.66,"s0":0.301,"s1":0.266},
      {"i":372,"a0":1.07,"a1":1.13,"b0":0.49,"b1":0.40,"s0":0.248,"s1":0.238},
      {"i":374,"a0":0.99,"a1":0.89,"b0":0.62,"b1":0.81,"s0":0.276,"s1":0.302},
      {"i":376,"a0":1.14,"a1":1.05,"b0":0.37,"b1":0.52,"s0":0.310,"s1":0.274},
      {"i":378,"a0":0.92,"a1":1.16,"b0":0.74,"b1":0.30,"s0":0.262,"s1":0.299},
      {"i":380,"a0":1.05,"a1":0.97,"b0":0.53,"b1":0.64,"s0":0.291,"s1":0.243},
      {"i":382,"a0":0.96,"a1":1.08,"b0":0.67,"b1":0.47,"s0":0.301,"s1":0.281},
      {"i":384,"a0":1.10,"a1":0.92,"b0":0.44,"b1":0.74,"s0":0.253,"s1":0.309},
      {"i":386,"a0":1.19,"a1":1.03,"b0":0.30,"b1":0.57,"s0":0.281,"s1":0.256},
      {"i":388,"a0":1.31,"a1":0.95,"b0":0.19,"b1":0.69,"s0":0.326,"s1":0.231},
      {"i":390,"a0":1.08,"a1":1.10,"b0":0.47,"b1":0.44,"s0":0.270,"s1":0.296},
      {"i":392,"a0":0.93,"a1":0.99,"b0":0.72,"b1":0.62,"s0":0.245,"s1":0.262},
      {"i":394,"a0":1.04,"a1":1.06,"b0":0.55,"b1":0.53,"s0":0.317,"s1":0.240},
      {"i":396,"a0":0.97,"a1":0.90,"b0":0.66,"b1":0.79,"s0":0.355,"s1":0.172},
      {"i":398,"a0":1.12,"a1":1.04,"b0":0.40,"b1":0.57,"s0":0.349,"s1":0.226},
      {"i":400,"a0":0.95,"a1":0.94,"b0":0.70,"b1":0.70,"s0":0.301,"s1":0.268},
      {"i":402,"a0":1.07,"a1":1.09,"b0":0.49,"b1":0.46,"s0":0.262,"s1":0.302},
      {"i":404,"a0":0.91,"a1":0.97,"b0":0.77,"b1":0.65,"s0":0.309,"s1":0.245},
      {"i":406,"a0":1.15,"a1":1.12,"b0":0.35,"b1":0.41,"s0":0.285,"s1":0.287},
      {"i":408,"a0":1.21,"a1":0.93,"b0":0.27,"b1":0.74,"s0":0.311,"s1":0.330},
      {"i":410,"a0":1.31,"a1":1.05,"b0":0.20,"b1":0.54,"s0":0.298,"s1":0.259},
      {"i":412,"a0":1.02,"a1":0.91,"b0":0.59,"b1":0.78,"s0":0.301,"s1":0.241},
      {"i":414,"a0":0.94,"a1":0.87,"b0":0.71,"b1":0.86,"s0":0.262,"s1":0.293},
      {"i":416,"a0":1.06,"a1":1.02,"b0":0.51,"b1":0.60,"s0":0.227,"s1":0.308},
      {"i":418,"a0":0.98,"a1":0.95,"b0":0.64,"b1":0.72,"s0":0.232,"s1":0.255},
      {"i":420,"a0":1.11,"a1":1.08,"b0":0.42,"b1":0.49,"s0":0.238,"s1":0.281},
      {"i":422,"a0":0.89,"a1":0.99,"b0":0.80,"b1":0.63,"s0":0.226,"s1":0.244},
      {"i":424,"a0":1.03,"a1":1.14,"b0":0.57,"b1":0.39,"s0":0.266,"s1":0.299},
      {"i":426,"a0":0.96,"a1":0.92,"b0":0.68,"b1":0.76,"s0":0.297,"s1":0.262},
      {"i":428,"a0":1.08,"a1":1.05,"b0":0.47,"b1":0.55,"s0":0.327,"s1":0.313},
      {"i":430,"a0":0.92,"a1":0.96,"b0":0.75,"b1":0.68,"s0":0.355,"s1":0.279},
      {"i":432,"a0":1.05,"a1":1.10,"b0":0.53,"b1":0.45,"s0":0.318,"s1":0.236},
      {"i":434,"a0":0.99,"a1":0.90,"b0":0.63,"b1":0.80,"s0":0.284,"s1":0.345},
      {"i":436,"a0":1.13,"a1":1.01,"b0":0.39,"b1":0.60,"s0":0.257,"s1":0.352},
      {"i":438,"a0":0.87,"a1":0.94,"b0":0.84,"b1":0.71,"s0":0.296,"s1":0.287},
      {"i":440,"a0":1.01,"a1":1.16,"b0":0.60,"b1":0.37,"s0":0.266,"s1":0.367},
      {"i":442,"a0":0.94,"a1":0.98,"b0":0.72,"b1":0.65,"s0":0.243,"s1":0.262},
      {"i":444,"a0":1.09,"a1":1.07,"b0":0.46,"b1":0.51,"s0":0.305,"s1":0.248},
      {"i":446,"a0":0.97,"a1":0.88,"b0":0.65,"b1":0.83,"s0":0.272,"s1":0.296},
      {"i":448,"a0":1.04,"a1":1.03,"b0":0.55,"b1":0.58,"s0":0.236,"s1":0.270},
      {"i":450,"a0":0.93,"a1":1.09,"b0":0.73,"b1":0.47,"s0":0.379,"s1":0.281},
      {"i":452,"a0":1.08,"a1":0.96,"b0":0.48,"b1":0.67,"s0":0.301,"s1":0.232},
      {"i":454,"a0":0.96,"a1":1.12,"b0":0.67,"b1":0.43,"s0":0.262,"s1":0.218},
      {"i":456,"a0":1.12,"a1":0.92,"b0":0.41,"b1":0.74,"s0":0.285,"s1":0.296},
      {"i":458,"a0":0.90,"a1":1.05,"b0":0.78,"b1":0.55,"s0":0.247,"s1":0.268},
      {"i":460,"a0":0.84,"a1":0.97,"b0":0.87,"b1":0.65,"s0":0.270,"s1":0.314},
      {"i":462,"a0":0.77,"a1":1.10,"b0":0.96,"b1":0.45,"s0":0.301,"s1":0.259},
      {"i":464,"a0":1.04,"a1":0.93,"b0":0.52,"b1":0.72,"s0":0.259,"s1":0.243},
      {"i":466,"a0":1.26,"a1":1.04,"b0":0.08,"b1":0.57,"s0":0.283,"s1":0.304},
      {"i":468,"a0":1.09,"a1":0.95,"b0":0.44,"b1":0.70,"s0":0.268,"s1":0.262},
      {"i":470,"a0":0.97,"a1":1.13,"b0":0.65,"b1":0.40,"s0":0.241,"s1":0.287},
      {"i":472,"a0":1.10,"a1":0.89,"b0":0.42,"b1":0.81,"s0":0.296,"s1":0.238},
      {"i":474,"a0":0.92,"a1":1.06,"b0":0.74,"b1":0.52,"s0":0.272,"s1":0.310},
      {"i":476,"a0":1.03,"a1":0.98,"b0":0.56,"b1":0.64,"s0":0.318,"s1":0.266},
      {"i":478,"a0":0.95,"a1":1.08,"b0":0.69,"b1":0.48,"s0":0.374,"s1":0.295},
      {"i":480,"a0":1.13,"a1":0.90,"b0":0.38,"b1":0.80,"s0":0.352,"s1":0.251},
      {"i":482,"a0":0.98,"a1":1.02,"b0":0.63,"b1":0.61,"s0":0.301,"s1":0.323},
      {"i":484,"a0":1.06,"a1":0.86,"b0":0.50,"b1":0.87,"s0":0.265,"s1":0.278},
      {"i":486,"a0":0.91,"a1":0.97,"b0":0.77,"b1":0.68,"s0":0.288,"s1":0.240},
      {"i":488,"a0":1.02,"a1":0.89,"b0":0.58,"b1":0.84,"s0":0.247,"s1":0.301},
      {"i":490,"a0":0.94,"a1":1.05,"b0":0.71,"b1":0.55,"s0":0.279,"s1":0.262},
      {"i":492,"a0":1.09,"a1":0.93,"b0":0.45,"b1":0.75,"s0":0.305,"s1":0.311},
      {"i":494,"a0":0.88,"a1":1.08,"b0":0.80,"b1":0.50,"s0":0.263,"s1":0.254},
      {"i":496,"a0":1.00,"a1":0.95,"b0":0.61,"b1":0.86,"s0":0.296,"s1":0.371},
      {"i":498,"a0":1.11,"a1":1.16,"b0":0.43,"b1":0.27,"s0":0.322,"s1":0.304}
    ]
  },
  "concat": [
    {
      "title": "x",
      "width": 451,
      "height": 284,
      "layer": [
        {
          "data": {"name": "kdeX"},
          "transform": [{"filter": "datum.p === 'Intercept' && datum.c === 0"}],
          "mark": {"type": "line", "color": "#1f77b4", "strokeWidth": 1.6, "interpolate": "monotone"},
          "encoding": {
            "x": {"field": "x", "type": "quantitative", "scale": {"domain": [0.0185, 1.3715], "nice": false, "zero": false},
                  "axis": {"title": null, "values": [0.2, 0.4, 0.6, 0.8, 1.0, 1.2], "format": ".1f"}},
            "y": {"field": "d", "type": "quantitative", "scale": {"domain": [-0.176, 3.769], "nice": false, "zero": false}, "axis": null}
          }
        },
        {
          "data": {"name": "kdeX"},
          "transform": [{"filter": "datum.p === 'Intercept' && datum.c === 1"}],
          "mark": {"type": "line", "color": "#1f77b4", "strokeWidth": 1.6, "strokeDash": [1.6, 2.8], "interpolate": "monotone"},
          "encoding": {"x": {"field": "x", "type": "quantitative"}, "y": {"field": "d", "type": "quantitative"}}
        },
        {
          "data": {"name": "kdeX"},
          "transform": [{"filter": "datum.p === 'Slope' && datum.c === 0"}],
          "mark": {"type": "line", "color": "#ff7f0e", "strokeWidth": 1.6, "interpolate": "monotone"},
          "encoding": {"x": {"field": "x", "type": "quantitative"}, "y": {"field": "d", "type": "quantitative"}}
        },
        {
          "data": {"name": "kdeX"},
          "transform": [{"filter": "datum.p === 'Slope' && datum.c === 1"}],
          "mark": {"type": "line", "color": "#ff7f0e", "strokeWidth": 1.6, "strokeDash": [1.6, 2.8], "interpolate": "monotone"},
          "encoding": {"x": {"field": "x", "type": "quantitative"}, "y": {"field": "d", "type": "quantitative"}}
        },
        {
          "data": {"name": "refX"},
          "mark": {"type": "rule", "strokeWidth": 2.8},
          "encoding": {
            "x": {"field": "v", "type": "quantitative"},
            "color": {"field": "name", "type": "nominal",
                      "scale": {"domain": ["True Intercept", "Intercept MAP", "True Slope", "Slope MAP"], "range": ["black", "#1f77b4", "#a9a9a9", "#ff7f0e"]},
                      "legend": {"title": null, "orient": "top-left"}},
            "strokeDash": {"field": "name", "type": "nominal",
                           "scale": {"domain": ["True Intercept", "Intercept MAP", "True Slope", "Slope MAP"], "range": [[1, 0], [10.3, 4.4], [1, 0], [10.3, 4.4]]},
                           "legend": {"title": null, "orient": "top-left"}}
          }
        }
      ]
    },
    {
      "title": "x",
      "width": 451,
      "height": 284,
      "layer": [
        {
          "data": {"name": "trace"},
          "mark": {"type": "line", "color": "#1f77b4", "opacity": 0.35, "strokeWidth": 1.8},
          "encoding": {
            "x": {"field": "i", "type": "quantitative", "scale": {"domain": [0, 499], "nice": false, "zero": false},
                  "axis": {"title": null, "values": [0, 100, 200, 300, 400], "format": "d"}},
            "y": {"field": "a0", "type": "quantitative", "scale": {"domain": [0.0185, 1.3715], "nice": false, "zero": false},
                  "axis": {"title": null, "values": [0.2, 0.4, 0.6, 0.8, 1.0, 1.2], "format": ".1f"}}
          }
        },
        {
          "data": {"name": "trace"},
          "mark": {"type": "line", "color": "#1f77b4", "opacity": 0.35, "strokeWidth": 1.8, "strokeDash": [1.8, 3]},
          "encoding": {"x": {"field": "i", "type": "quantitative"}, "y": {"field": "a1", "type": "quantitative"}}
        },
        {
          "data": {"name": "trace"},
          "mark": {"type": "line", "color": "#ff7f0e", "opacity": 0.35, "strokeWidth": 1.8},
          "encoding": {"x": {"field": "i", "type": "quantitative"}, "y": {"field": "b0", "type": "quantitative"}}
        },
        {
          "data": {"name": "trace"},
          "mark": {"type": "line", "color": "#ff7f0e", "opacity": 0.35, "strokeWidth": 1.8, "strokeDash": [1.8, 3]},
          "encoding": {"x": {"field": "i", "type": "quantitative"}, "y": {"field": "b1", "type": "quantitative"}}
        },
        {
          "data": {"name": "refX"},
          "mark": {"type": "rule", "strokeWidth": 2.8},
          "encoding": {
            "y": {"field": "v", "type": "quantitative"},
            "color": {"field": "name", "type": "nominal",
                      "scale": {"domain": ["True Intercept", "Intercept MAP", "True Slope", "Slope MAP"], "range": ["black", "#1f77b4", "#a9a9a9", "#ff7f0e"]},
                      "legend": {"title": null, "orient": "bottom-right"}},
            "strokeDash": {"field": "name", "type": "nominal",
                           "scale": {"domain": ["True Intercept", "Intercept MAP", "True Slope", "Slope MAP"], "range": [[1, 0], [10.3, 4.4], [1, 0], [10.3, 4.4]]},
                           "legend": {"title": null, "orient": "bottom-right"}}
          }
        }
      ]
    },
    {
      "title": "σ",
      "width": 451,
      "height": 284,
      "layer": [
        {
          "data": {"name": "kdeS"},
          "transform": [{"filter": "datum.c === 0"}],
          "mark": {"type": "line", "color": "#1f77b4", "strokeWidth": 1.6, "interpolate": "monotone"},
          "encoding": {
            "x": {"field": "x", "type": "quantitative", "scale": {"domain": [0.1588, 0.4524], "nice": false, "zero": false},
                  "axis": {"title": null, "values": [0.2, 0.25, 0.3, 0.35, 0.4, 0.45], "format": ".2f"}},
            "y": {"field": "d", "type": "quantitative", "scale": {"domain": [-0.833, 13.3], "nice": false, "zero": false}, "axis": null}
          }
        },
        {
          "data": {"name": "kdeS"},
          "transform": [{"filter": "datum.c === 1"}],
          "mark": {"type": "line", "color": "#1f77b4", "strokeWidth": 1.6, "strokeDash": [1.6, 2.8], "interpolate": "monotone"},
          "encoding": {"x": {"field": "x", "type": "quantitative"}, "y": {"field": "d", "type": "quantitative"}}
        },
        {
          "data": {"name": "refS"},
          "mark": {"type": "rule", "strokeWidth": 2.8},
          "encoding": {
            "x": {"field": "v", "type": "quantitative"},
            "color": {"field": "name", "type": "nominal",
                      "scale": {"domain": ["True Sigma", "Sigma MAP"], "range": ["black", "#1f77b4"]},
                      "legend": {"title": null, "orient": "top-right"}},
            "strokeDash": {"field": "name", "type": "nominal",
                           "scale": {"domain": ["True Sigma", "Sigma MAP"], "range": [[1, 0], [10.3, 4.4]]},
                           "legend": {"title": null, "orient": "top-right"}}
          }
        }
      ]
    },
    {
      "title": "σ",
      "width": 451,
      "height": 284,
      "layer": [
        {
          "data": {"name": "trace"},
          "mark": {"type": "line", "color": "#1f77b4", "opacity": 0.35, "strokeWidth": 1.8},
          "encoding": {
            "x": {"field": "i", "type": "quantitative", "scale": {"domain": [0, 499], "nice": false, "zero": false},
                  "axis": {"title": null, "values": [0, 100, 200, 300, 400], "format": "d"}},
            "y": {"field": "s0", "type": "quantitative", "scale": {"domain": [0.1598, 0.4535], "nice": false, "zero": false},
                  "axis": {"title": null, "values": [0.2, 0.25, 0.3, 0.35, 0.4, 0.45], "format": ".2f"}}
          }
        },
        {
          "data": {"name": "trace"},
          "mark": {"type": "line", "color": "#1f77b4", "opacity": 0.35, "strokeWidth": 1.8, "strokeDash": [1.8, 3]},
          "encoding": {"x": {"field": "i", "type": "quantitative"}, "y": {"field": "s1", "type": "quantitative"}}
        },
        {
          "data": {"name": "refS"},
          "mark": {"type": "rule", "strokeWidth": 2.8},
          "encoding": {
            "y": {"field": "v", "type": "quantitative"},
            "color": {"field": "name", "type": "nominal",
                      "scale": {"domain": ["True Sigma", "Sigma MAP"], "range": ["black", "#1f77b4"]},
                      "legend": {"title": null, "orient": "top-right"}},
            "strokeDash": {"field": "name", "type": "nominal",
                           "scale": {"domain": ["True Sigma", "Sigma MAP"], "range": [[1, 0], [10.3, 4.4]]},
                           "legend": {"title": null, "orient": "top-right"}}
          }
        }
      ]
    }
  ],
  "resolve": {
    "scale": {"color": "independent", "strokeDash": "independent", "x": "independent", "y": "independent"},
    "legend": {"color": "independent", "strokeDash": "independent"}
  },
  "config": {
    "font": "DejaVu Sans",
    "view": {"stroke": "black", "strokeWidth": 1.1},
    "axis": {
      "domain": false, "grid": false,
      "tickColor": "black", "tickSize": 4.9, "tickWidth": 1.1,
      "labelColor": "black", "labelFont": "DejaVu Sans", "labelFontSize": 13.9,
      "labelPadding": 3.5, "labelFlush": false, "labelOverlap": false, "labelBound": false
    },
    "title": {"font": "DejaVu Sans", "fontSize": 14, "fontWeight": "normal", "color": "black", "offset": 3},
    "legend": {
      "symbolType": "stroke", "symbolSize": 773, "symbolStrokeWidth": 2.8, "clipHeight": 14,
      "labelFont": "DejaVu Sans", "labelFontSize": 13.9, "labelColor": "black", "labelOffset": 9.4,
      "rowPadding": 7, "padding": 4.5, "offset": 7,
      "fillColor": "rgba(255,255,255,0.8)", "strokeColor": "#cccccc", "cornerRadius": 3
    }
  }
}
